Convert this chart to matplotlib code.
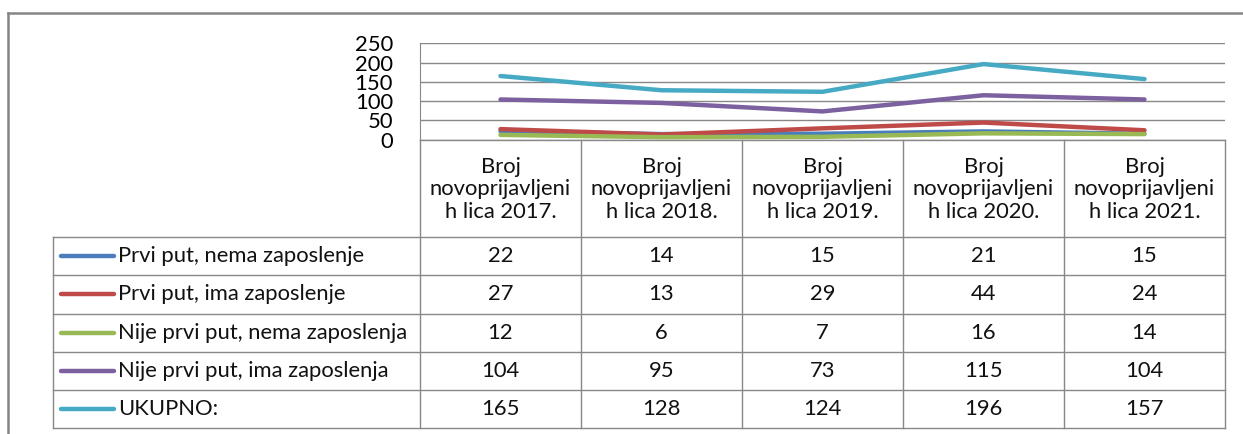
import matplotlib
matplotlib.use("Agg")
import matplotlib.pyplot as plt
from matplotlib.lines import Line2D

plt.rcParams['font.family'] = ['Lato', 'DejaVu Sans']

categories = ["Broj\nnovoprijavljeni\nh lica 2017.", "Broj\nnovoprijavljeni\nh lica 2018.",
              "Broj\nnovoprijavljeni\nh lica 2019.", "Broj\nnovoprijavljeni\nh lica 2020.",
              "Broj\nnovoprijavljeni\nh lica 2021."]
series_names = ["Prvi put, nema zaposlenje", "Prvi put, ima zaposlenje",
                "Nije prvi put, nema zaposlenja", "Nije prvi put, ima zaposlenja", "UKUPNO:"]
prvi_nema = [22, 14, 15, 21, 15]
prvi_ima = [27, 13, 29, 44, 24]
nije_nema = [12, 6, 7, 16, 14]
nije_ima = [104, 95, 73, 115, 104]
ukupno = [165, 128, 124, 196, 157]
series_values = [prvi_nema, prvi_ima, nije_nema, nije_ima, ukupno]
colors = ["#4A7EBB", "#BE4B48", "#98B954", "#7D60A0", "#46AAC5"]
yticks = [0, 50, 100, 150, 200, 250]

W, H = 1243, 434
fig = plt.figure(figsize=(W / 100, H / 100), dpi=100)

# geometry (pixels)
plot_l, plot_r, plot_t, plot_b = 420, 1225, 43.3, 139.5
head_b = 237.3
row_h = 38.1
tab_l = 53
grid_c = "#888888"
fs = 15.8

ax = fig.add_axes([plot_l / W, 1 - plot_b / H, (plot_r - plot_l) / W, (plot_b - plot_t) / H])
n = len(categories)
x = list(range(n))
for vals, c in zip(series_values, colors):
    ax.plot(x, vals, color=c, lw=3.2, solid_capstyle='round', clip_on=False, zorder=3)
ax.set_xlim(-0.5, n - 0.5)
ax.set_ylim(0, 250)
ax.set_yticks(yticks)
ax.set_yticklabels([str(t) for t in yticks], fontsize=fs)
ax.tick_params(axis='y', length=0, pad=19.5)
ax.set_xticks([])
ax.grid(axis='y', color=grid_c, lw=1.0)
for s in ['top', 'right', 'bottom']:
    ax.spines[s].set_visible(False)
ax.spines['left'].set_color(grid_c)
ax.set_facecolor('none')
ax.set_axisbelow(True)

# overlay for table
ov = fig.add_axes([0, 0, 1, 1], zorder=-1)
ov.set_xlim(0, W)
ov.set_ylim(H, 0)
ov.axis('off')

# outer frame
ov.add_line(Line2D([8, 8], [13, H + 5], color="#858585", lw=1.8))
ov.add_line(Line2D([8, W + 5], [13, 13], color="#858585", lw=1.8))

col_w = (plot_r - plot_l) / n
nrows = len(series_names)
tab_b = head_b + nrows * row_h

for i in range(n + 1):
    xx = plot_l + i * col_w
    ov.add_line(Line2D([xx, xx], [plot_b, tab_b], color=grid_c, lw=1.0))
ov.add_line(Line2D([plot_l, plot_r], [plot_b, plot_b], color=grid_c, lw=1.0))
ov.add_line(Line2D([tab_l, tab_l], [head_b, tab_b], color=grid_c, lw=1.0))
for r in range(nrows + 1):
    yy = head_b + r * row_h
    ov.add_line(Line2D([tab_l, plot_r], [yy, yy], color=grid_c, lw=1.0))

for i, cat in enumerate(categories):
    cx = plot_l + (i + 0.5) * col_w
    ov.text(cx, (plot_b + head_b) / 2 + 1, cat, ha='center', va='center',
            fontsize=fs, linespacing=1.18, color='#111111')

for r, (name, vals, c) in enumerate(zip(series_names, series_values, colors)):
    cy = head_b + (r + 0.5) * row_h
    ov.add_line(Line2D([61, 114], [cy, cy], color=c, lw=3.2, solid_capstyle='round'))
    ov.text(118, cy, name, ha='left', va='center', fontsize=fs, color='#111111')
    for i, v in enumerate(vals):
        cx = plot_l + (i + 0.5) * col_w
        ov.text(cx, cy, str(v), ha='center', va='center', fontsize=fs, color='#111111')

fig.savefig("out.png", dpi=100, facecolor='white')
